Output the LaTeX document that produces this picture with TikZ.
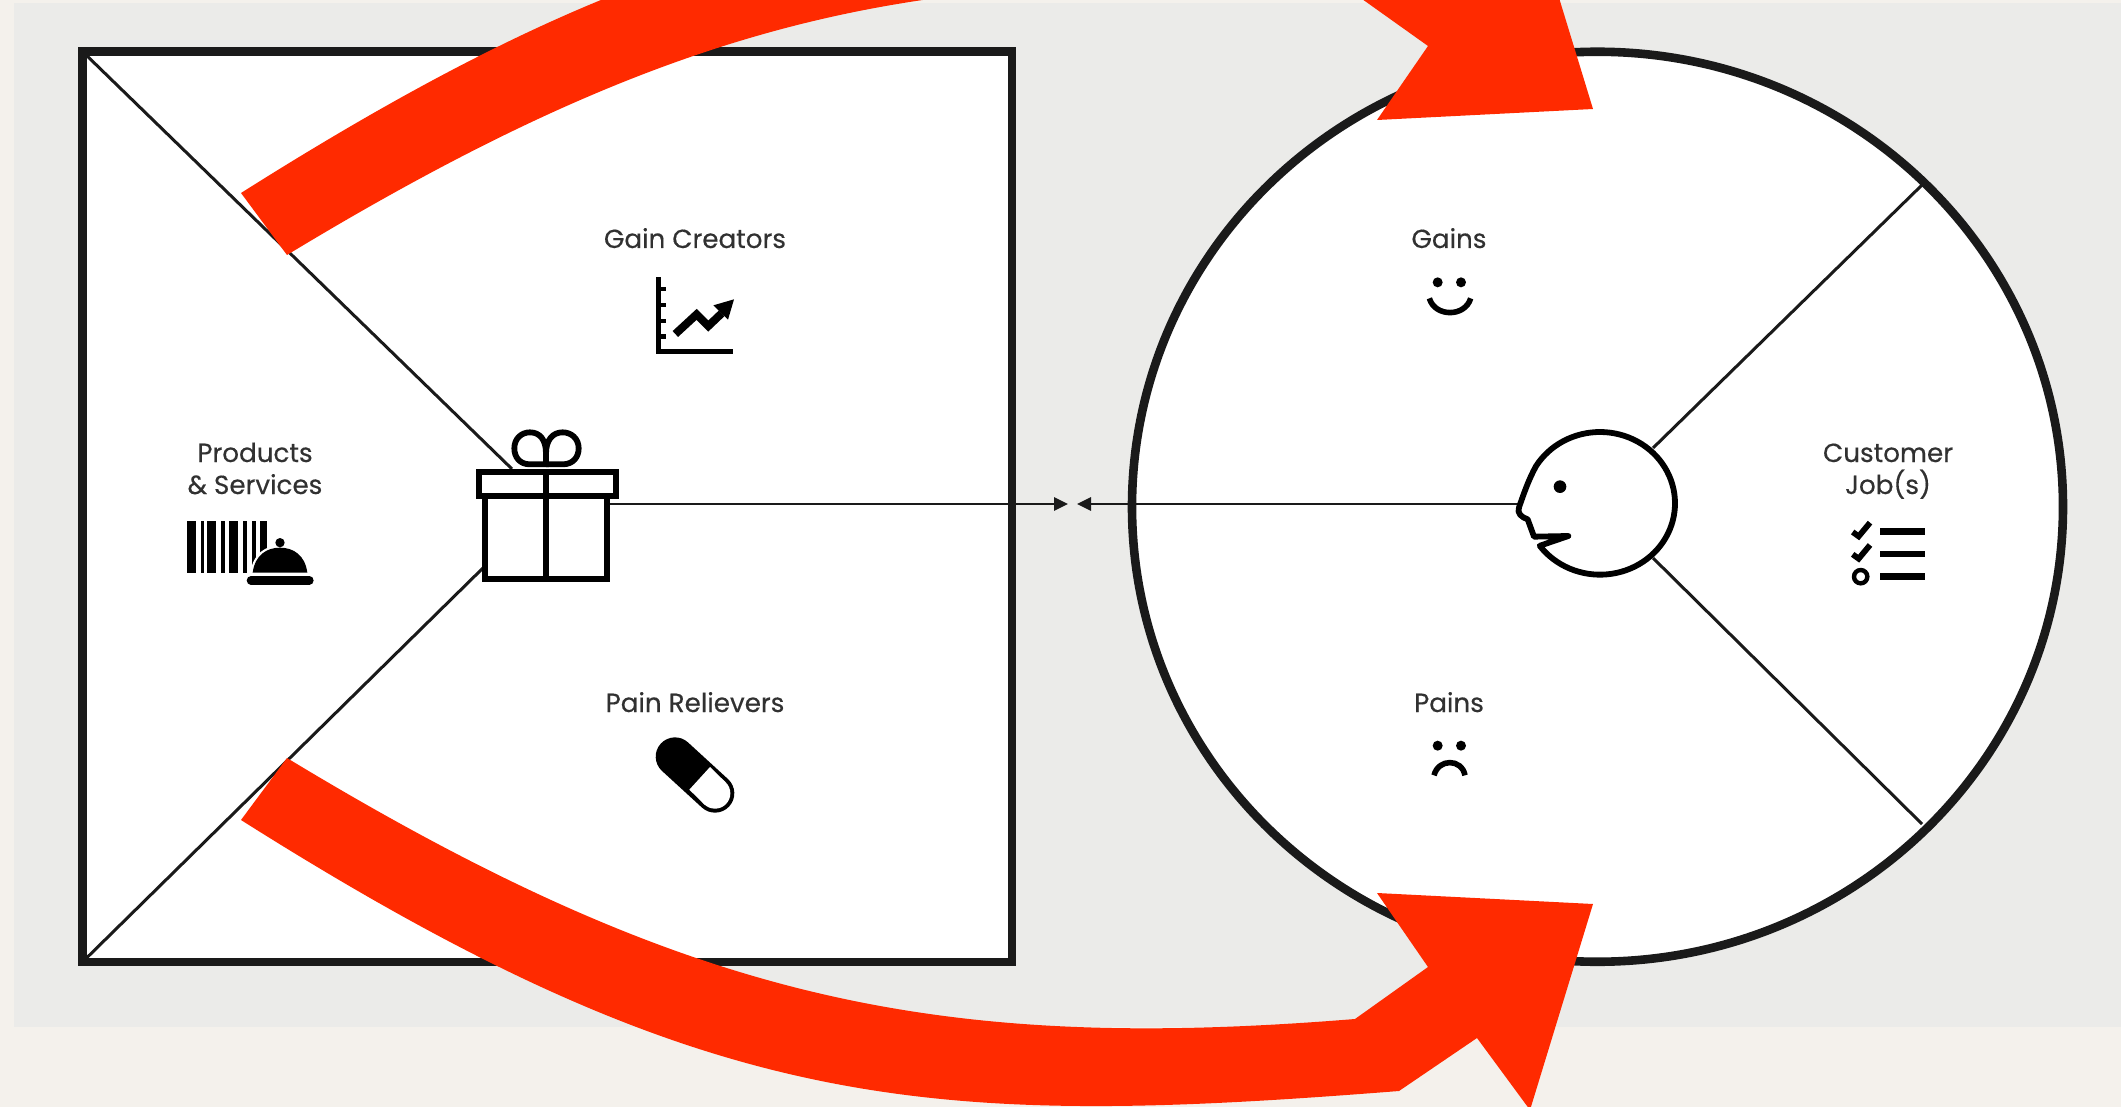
\documentclass[tikz,border=0pt]{standalone}
\usepackage{fontspec}
\setmainfont{Poppins}[RawFeature={embolden=0.35}]
\usetikzlibrary{arrows.meta,shapes.geometric}
\definecolor{paper}{HTML}{F4F1EC}
\definecolor{greybg}{HTML}{EBEBE9}
\definecolor{ink}{HTML}{1A1A1A}
\definecolor{redarrow}{HTML}{FF2A00}
\newcommand{\redshape}{%
  \fill[redarrow] (241,820) -- (287,758)
    .. controls (687,1000) and (935,1053) .. (1355,1019)
    -- (1428,967) -- (1377,893) -- (1593,904) -- (1530,1110) -- (1477,1038) -- (1399,1091)
    .. controls (929,1128) and (711,1117) .. (241,820) -- cycle;}
\tikzset{
  iconz/.style={shift={(#1)},x=0.16667pt,y=-0.16667pt},
  frame/.style={draw=ink,fill=white,line width=4.3pt,inner sep=0pt,outer sep=0pt},
  thinline/.style={draw=ink,line width=1.5pt},
  link/.style={draw=ink,line width=1.4pt,-{Triangle[length=7pt,width=6.5pt]}},
  lbl/.style={text=ink!90,align=center,inner sep=0pt,anchor=base,font=\fontsize{13.1}{16}\selectfont},
  icon/.style={draw=black,line width=2.9pt,fill=none},
}
\begin{document}
\begin{tikzpicture}[x=0.5pt,y=-0.5pt]
\useasboundingbox (0,0) rectangle (2121,1107);
\clip (0,0) rectangle (2121,1107);
\fill[paper] (0,0) rectangle (2121,1107);
\fill[greybg] (14,3) rectangle (2121,1027);

% frames
\node[frame,rectangle,minimum width=464.75pt,minimum height=455.25pt] (vp) at (547.25,506.75) {};
\node[frame,ellipse,minimum width=465.5pt,minimum height=455pt] (cp) at (1597.5,506.75) {};

% named connector ends
\coordinate (giftTop) at (512,469);
\coordinate (giftBot) at (483,568);
\coordinate (giftR) at (609,504);
\coordinate (faceL) at (1518,504);
\coordinate (tipL) at (1068,504);
\coordinate (tipR) at (1077,504);
\coordinate (faceUR) at (1653,448);
\coordinate (faceLR) at (1653,558);
\coordinate (rimUR) at (1922,185);
\coordinate (rimLR) at (1922,824);

% connectors
\draw[thinline] (vp.north west) -- (giftTop);
\draw[thinline] (vp.south west) -- (giftBot);
\draw[thinline] (faceUR) -- (rimUR);
\draw[thinline] (faceLR) -- (rimLR);
\draw[link] (giftR) -- (tipL);
\draw[link] (faceL) -- (tipR);

% gift
\begin{scope}[iconz={420,200}]
  \draw[icon] (196,888) rectangle (560,1137);
  \draw[icon] (176,816) rectangle (588,888);
  \draw[icon] (378,816) -- (378,1137);
  \draw[icon] (378,793) -- (330,793) .. controls (298,793) and (283,770) .. (283,745)
     .. controls (283,715) and (305,697) .. (330,697)
     .. controls (360,697) and (378,720) .. (378,760) -- cycle;
  \draw[icon] (378,793) -- (428,793) .. controls (460,793) and (476,770) .. (476,745)
     .. controls (476,715) and (453,697) .. (428,697)
     .. controls (398,697) and (378,720) .. (378,760);
\end{scope}

% face
\begin{scope}[iconz={1380,400}]
  \draw[icon,fill=white,line join=round]
    plot[domain=143.6:-148.6,samples=80] ({660+225*cos(\x)},{310+214*sin(\x)})
    .. controls (445,240) and (430,285) .. (417,322)
    .. controls (410,340) and (425,352) .. (443,358)
    -- (462,410) -- (565,408) -- (480,437) -- cycle;
  \fill[black] (540,260) circle (19);
\end{scope}

% labels
\node[lbl] (gc) at (695,248) {Gain Creators};
\node[lbl] (pr) at (695,712) {Pain Relievers};
\node[lbl] (gn) at (1449,248) {Gains};
\node[lbl] (pn) at (1449,712) {Pains};
\node[lbl] (ps) at (255,494) {Products\\\& Services};
\node[lbl] (cj) at (1888,494) {Customer\\Job(s)};

% chart icon
\begin{scope}[iconz={590,220}]
  \draw[black,line width=2.8pt] (205,172) -- (205,394) -- (428,394);
  \foreach \y in {207,255,303,350} \draw[black,line width=2.4pt] (205,\y) -- (228,\y);
  \draw[black,line width=4pt] (256,342) -- (320,283) -- (355,318) -- (395,280);
  \fill[black] (432,238) -- (370,256) -- (414,299) -- cycle;
\end{scope}

% barcode and cloche
\begin{scope}[iconz={150,420}]
  \foreach \a/\b in {110/138,152/163,170/198,212/225,236/263,280/292,305/318,330/352}
    \fill[black] (\a,302) rectangle (\b,460);
  \draw[white,line width=2.2pt] (308,458) .. controls (315,405) and (350,383) .. (390,383)
    .. controls (430,383) and (465,405) .. (472,458) -- cycle;
  \fill[black] (308,458) .. controls (315,405) and (350,383) .. (390,383)
    .. controls (430,383) and (465,405) .. (472,458) -- cycle;
  \fill[black] (390,368) circle (14);
  \draw[white,line width=4.8pt] (303,481) -- (478,481);
  \draw[black,line width=4.3pt,line cap=round] (303,481) -- (478,481);
\end{scope}

% pill
\begin{scope}[iconz={590,680}]
  \draw[black,line width=19.3pt,line cap=round] (255,230) -- (375,340);
  \fill[white] (298,329) -- (360,261) -- (406,306) -- (344,374) -- cycle;
  \fill[white] (375,340) circle (46);
\end{scope}

% checklist
\begin{scope}[iconz={1780,420}]
  \draw[black,line width=2.9pt] (218,336) -- (236,349) -- (270,308);
  \draw[black,line width=2.9pt] (218,403) -- (236,416) -- (270,375);
  \draw[black,line width=2.2pt] (242,470) circle (20);
  \foreach \y in {335,402,470} \draw[black,line width=3.4pt] (300,\y) -- (435,\y);
\end{scope}

% smile
\begin{scope}[iconz={1350,200}]
  \fill[black] (263,247) circle (15);
  \fill[black] (333,247) circle (15);
  \draw[black,line width=2.8pt] (238,295) .. controls (255,352) and (345,352) .. (362,295);
\end{scope}

% frown
\begin{scope}[iconz={1350,670}]
  \fill[black] (263,227) circle (15);
  \fill[black] (333,227) circle (15);
  \draw[black,line width=2.8pt] (252,316) .. controls (265,265) and (335,265) .. (345,316);
\end{scope}

% red arrows
\redshape
\begin{scope}[shift={(0,1013)},yscale=-1]
  \redshape
\end{scope}
\end{tikzpicture}
\end{document}
